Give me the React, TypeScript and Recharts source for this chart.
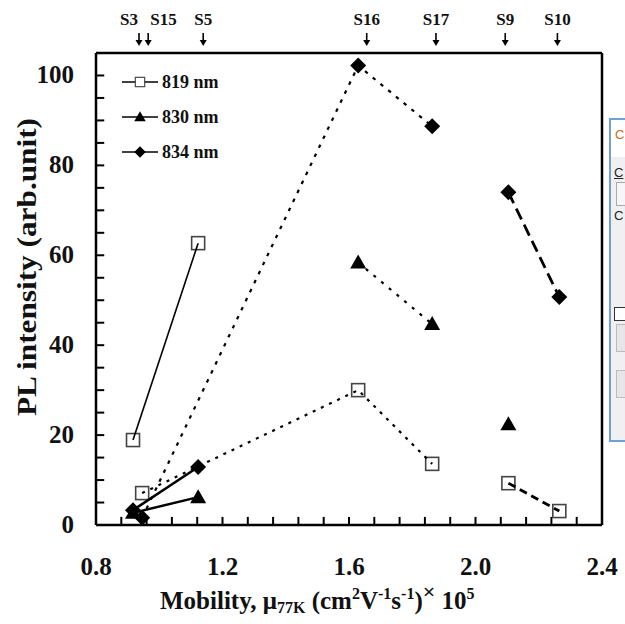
import React from 'react';
import { ScatterChart, Scatter, XAxis, YAxis, ReferenceDot, ReferenceLine, Label } from 'recharts';

// samples, their 77K mobility (x1e5 cm2/Vs) and PL intensity per emission line
const samples = ['S3', 'S15', 'S5', 'S16', 'S17', 'S9', 'S10'];
const mobility = [0.917, 0.946, 1.123, 1.629, 1.863, 2.104, 2.265];
const arrowMobility = [0.936, 0.965, 1.139, 1.656, 1.875, 2.094, 2.259];
const pl819 = [18.9, 7.1, 62.7, 30.0, 13.6, 9.3, 3.1];
const pl830 = [2.7, null, 6.2, 58.4, 44.7, 22.4, null];
const pl834 = [3.3, 1.6, 12.9, 102.2, 88.7, 74.0, 50.7];

const xLabels = [0.8, 1.2, 1.6, 2.0, 2.4];
const yLabels = [0, 20, 40, 60, 80, 100];

// which samples get joined together
const solidLink = ['S3', 'S5'];
const dottedLink = ['S15', 'S16', 'S17'];
const dashedLink = ['S9', 'S10'];

const FONT = '"Liberation Serif", "Times New Roman", serif';

const pts = (vals: (number | null)[], names: string[] = samples) =>
    names
        .map((n) => samples.indexOf(n))
        .filter((i) => vals[i] != null)
        .map((i) => ({ x: mobility[i], y: vals[i] as number }));

// inward minor tick marks: every 0.08 on x, every 5 on y, each a tiny two-point segment
const xMinor: { x: number; y: number }[][] = [];
for (let i = 1; i < 20; i++) {
    const v = Math.round((0.8 + i * 0.08) * 100) / 100;
    xMinor.push([{ x: v, y: 0 }, { x: v, y: 1.8 }]);
}
const yMinor: { x: number; y: number }[][] = [];
for (let v = 5; v <= 100; v += 5) yMinor.push([{ x: 0.8, y: v }, { x: 0.826, y: v }]);

const Square = ({ cx, cy }: any) => (
    <rect x={cx - 6.5} y={cy - 6.5} width={13} height={13} fill="#fff" stroke="#444" strokeWidth={1.6} />
);
const Triangle = ({ cx, cy }: any) => (
    <polygon points={`${cx},${cy - 8} ${cx + 8},${cy + 6} ${cx - 8},${cy + 6}`} fill="#000" />
);
const Diamond = ({ cx, cy }: any) => (
    <polygon points={`${cx},${cy - 8} ${cx + 8},${cy} ${cx},${cy + 8} ${cx - 8},${cy}`} fill="#000" />
);
const NoDot = () => <g />;

const XTick = ({ x, payload }: any) => (
    <text x={x} y={575} textAnchor="middle" fontFamily={FONT} fontWeight="bold" fontSize={25} fill="#111">
        {payload.value.toFixed(1)}
    </text>
);

const YTick = ({ y, payload }: any) => (
    <text x={74} y={y + 8} textAnchor="end" fontFamily={FONT} fontWeight="bold" fontSize={25} fill="#111">
        {payload.value}
    </text>
);

// sample name + down arrow sitting above the frame
const SampleArrow = (name: string) => ({ cx, cy }: any) => {
    let anchor: any = 'middle';
    let tx = cx;
    if (name === 'S3') { anchor = 'end'; tx = cx - 1; }
    if (name === 'S15') { anchor = 'start'; tx = cx + 2; }
    return (
        <g>
            <text x={tx} y={cy - 28} textAnchor={anchor} fontFamily={FONT} fontWeight="bold" fontSize={17} fill="#111">
                {name}
            </text>
            <line x1={cx} y1={cy - 20} x2={cx} y2={cy - 10} stroke="#000" strokeWidth={1.6} />
            <polygon points={`${cx - 3.5},${cy - 13} ${cx + 3.5},${cy - 13} ${cx},${cy - 7}`} fill="#000" />
        </g>
    );
};

const MobilityLabel = () => (
    <text x={160} y={609} fontFamily={FONT} fontWeight="bold" fontSize={25} fill="#111">
        Mobility, μ
        <tspan fontSize={16} dy={4}>77K</tspan>
        <tspan dy={-4}> (cm</tspan>
        <tspan fontSize={16} dy={-10}>2</tspan>
        <tspan dy={10}>V</tspan>
        <tspan fontSize={16} dy={-10}>-1</tspan>
        <tspan dy={10}>s</tspan>
        <tspan fontSize={16} dy={-10}>-1</tspan>
        <tspan dy={10}>)</tspan>
        <tspan fontSize={22} dy={-10}>×</tspan>
        <tspan dy={10}> 10</tspan>
        <tspan fontSize={16} dy={-10}>5</tspan>
    </text>
);

const PlLabel = () => (
    <text x={27} y={267} transform="rotate(-90 27 267)" textAnchor="middle" dominantBaseline="central"
        fontFamily={FONT} fontWeight="bold" fontSize={27} textLength={298} lengthAdjust="spacingAndGlyphs" fill="#111">
        PL intensity (arb.unit)
    </text>
);

const legendRows = [
    { name: '819 nm', Mark: Square },
    { name: '830 nm', Mark: Triangle },
    { name: '834 nm', Mark: Diamond },
];

const LegendBox = () => (
    <svg width={120} height={100} style={{ position: 'absolute', left: 110, top: 65 }}>
        {legendRows.map((r, i) => {
            const cy = 17 + i * 35;
            return (
                <g key={r.name}>
                    <line x1={12} y1={cy} x2={48} y2={cy} stroke="#000" strokeWidth={1.5} />
                    <g transform={`translate(30 ${cy}) scale(0.72) translate(-30 ${-cy})`}>
                        <r.Mark cx={30} cy={cy} />
                    </g>
                    <text x={52} y={cy + 6} fontFamily={FONT} fontWeight="bold" fontSize={18} fill="#111">
                        {r.name}
                    </text>
                </g>
            );
        })}
    </svg>
);

const series = [
    { vals: pl819, Mark: Square, solid: 1.6, dotted: '3 6', dashed: '8 5' },
    { vals: pl830, Mark: Triangle, solid: 2.5, dotted: '3 7', dashed: '8 5' },
    { vals: pl834, Mark: Diamond, solid: 2.5, dotted: '3.5 6.5', dashed: '12 6' },
];

export default function App() {
    return (
        <div style={{ position: 'absolute', left: 0, top: 0, width: 625, height: 624, background: '#fff' }}>
            <ScatterChart width={625} height={624} margin={{ top: 53, right: 23, bottom: 0, left: 0 }}>
                <XAxis type="number" dataKey="x" domain={[0.8, 2.4]} ticks={xLabels} interval={0}
                    axisLine={false} tickLine={false} height={99} tick={<XTick />}>
                    <Label content={<MobilityLabel />} />
                </XAxis>
                <YAxis type="number" dataKey="y" domain={[0, 105]} ticks={yLabels} interval={0}
                    axisLine={false} tickLine={false} width={96} tick={<YTick />}>
                    <Label content={<PlLabel />} />
                </YAxis>
                <ReferenceLine x={0.8} stroke="#000" strokeWidth={2.5} ifOverflow="visible" />
                <ReferenceLine x={2.4} stroke="#000" strokeWidth={2.5} ifOverflow="visible" />
                <ReferenceLine y={0} stroke="#000" strokeWidth={2.5} ifOverflow="visible" />
                <ReferenceLine y={105} stroke="#000" strokeWidth={2.5} ifOverflow="visible" />
                {xMinor.map((seg, k) => (
                    <Scatter key={`xt${k}`} data={seg} shape={<NoDot />} isAnimationActive={false}
                        line={{ stroke: '#000', strokeWidth: 2 }} />
                ))}
                {yMinor.map((seg, k) => (
                    <Scatter key={`yt${k}`} data={seg} shape={<NoDot />} isAnimationActive={false}
                        line={{ stroke: '#000', strokeWidth: 2 }} />
                ))}
                {series.map((s, k) => (
                    <Scatter key={`m${k}`} data={pts(s.vals)} shape={<s.Mark />} isAnimationActive={false} />
                ))}
                {series.map((s, k) => (
                    <Scatter key={`s${k}`} data={pts(s.vals, solidLink)} shape={<NoDot />} isAnimationActive={false}
                        line={{ stroke: '#000', strokeWidth: s.solid }} />
                ))}
                {series.map((s, k) => (
                    <Scatter key={`d${k}`} data={pts(s.vals, dottedLink)} shape={<NoDot />} isAnimationActive={false}
                        line={{ stroke: '#000', strokeWidth: 2.2, strokeDasharray: s.dotted }} />
                ))}
                {series.map((s, k) => (
                    <Scatter key={`h${k}`} data={pts(s.vals, dashedLink)} shape={<NoDot />} isAnimationActive={false}
                        line={{ stroke: '#000', strokeWidth: 2.8, strokeDasharray: s.dashed }} />
                ))}
                {samples.map((name, i) => (
                    <ReferenceDot key={name} x={arrowMobility[i]} y={105} ifOverflow="visible"
                        shape={SampleArrow(name)} />
                ))}
            </ScatterChart>
            <LegendBox />
            <div style={{
                position: 'absolute', left: 609, top: 118, width: 16, height: 320, background: '#f0f0f0',
                borderLeft: '2px solid #6e9fd8', borderTop: '2px solid #6e9fd8', borderBottom: '2px solid #6e9fd8',
                overflow: 'hidden', fontFamily: 'Arial, sans-serif', fontSize: 13,
            }}>
                <div style={{ background: '#fff', height: 30, paddingLeft: 4, paddingTop: 7, color: '#c86b1c' }}>C</div>
                <div style={{ paddingLeft: 3, marginTop: 8, textDecoration: 'underline', color: '#222' }}>C</div>
                <div style={{ marginLeft: 5, marginTop: 2, width: 12, height: 22, border: '1px solid #aaa', background: '#f6f6f6' }} />
                <div style={{ paddingLeft: 3, marginTop: 2, color: '#222' }}>C</div>
                <div style={{ marginLeft: 3, marginTop: 84, width: 12, height: 12, border: '1px solid #333', background: '#fff' }} />
                <div style={{ marginLeft: 5, marginTop: 3, height: 26, border: '1px solid #bbb', background: '#e6e6e6' }} />
                <div style={{ marginLeft: 5, marginTop: 18, height: 26, border: '1px solid #bbb', background: '#e6e6e6' }} />
            </div>
        </div>
    );
}
